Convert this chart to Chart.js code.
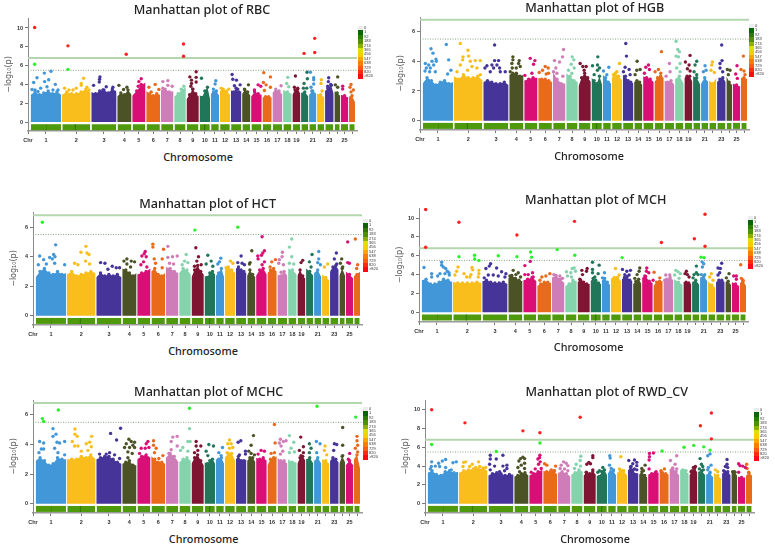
<!DOCTYPE html>
<html>
<head>
<meta charset="utf-8">
<script src="https://cdn.jsdelivr.net/npm/chart.js@4"></script>
<style>
  html, body { margin: 0; background: #fff; }
  #page { position: relative; width: 775px; height: 545px; overflow: hidden; }
  canvas { position: absolute; }
  .label { position: absolute; transform: translate(-50%, -50%); white-space: nowrap; color: #222; font-family: "Noto Sans", sans-serif; font-weight: 500; }
  .title { font-size: 12.6px; }
  .xname { font-size: 10.8px; }
  .scale { position: absolute; font-family: "Liberation Sans", sans-serif; font-size: 4px; color: #333; }
  .scale div { height: 4.4px; line-height: 4.4px; }
  .scale i { display: inline-block; width: 5px; height: 4.4px; vertical-align: top; margin-right: 1px; }
</style>
</head>
<body>
<div id="page"></div>
<script>
const chrSizes = [92, 86, 76, 43, 40, 42, 38, 35, 37, 32, 25, 31, 32, 25, 32, 28, 30, 26, 24, 22, 22, 22, 26, 17, 23, 18];
const chrColors = ["#4197D8", "#F9BE1B", "#463499", "#4A5226", "#D90F76", "#E96A1B", "#CE7DB8", "#84D3AC", "#7E1633", "#1F7659"];
const chrLabels = ["1", "2", "3", "4", "5", "6", "7", "8", "9", "10", "11", "12", "13", "14", "15", "16", "17", "18", "19", "", "21", "", "23", "", "25", ""];
const scaleLabels = ["0", "1", "92", "183", "274", "365", "456", "547", "638", "729", "820", ">820"];
const scaleColors = ["#ECECEC", "#0A6408", "#2C7C03", "#4F9006", "#8DB004", "#DDE000", "#F5D000", "#F9A400", "#F97D05", "#FB5A10", "#FD2A10", "#FF0A14"];
const stripBands = [[46, 48], [132, 136], [520, 525], [300, 302]];
const genomeLine = 6.8;
const suggestiveLine = 5.5;

const rbcSkyline = [[2.9,3.2,2.9,3.1,3.3,3.0,3.2,2.9],[2.9,3.2,3.0,3.0,3.2,3.5,3.1],[3.2,3.0,3.3,3.4,3.1,3.5,3.1],[2.7,3.1,2.9,3.4,2.9],[2.8,3.3,3.9,4.2],[3.3,3.0,2.8,3.0,2.9],[3.4,3.5,3.2,3.3],[2.7,3.0,3.4,3.7],[2.4,2.9,3.5,3.0,2.7],[2.9,2.6,3.3,3.7,2.4],[3.0,3.2,3.3,2.8],[3.3,3.5,3.3,2.9],[3.4,3.2,3.6,3.2,3.3],[3.0,3.4,3.2,2.8],[2.7,3.2,3.0,2.9],[2.6,2.7,2.7,2.6],[3.1,3.5,3.3,2.9],[3.4,3.2,3.0],[2.9,3.4,3.5,3.0],[3.1,3.2,2.7],[2.9,3.3,3.0],[3.0,2.9,2.6],[3.3,3.6,4.0,3.0],[3.3,3.1,2.8],[2.9,2.8,2.6],[2.7,2.8,2.1]];
const rbcPeaks = [[12,10.05],[12,6.15],[112,8.1],[112,5.6],[287,7.2],[459,8.3],[459,7.0],[821,7.3],[853,8.9],[853,7.4],
[61,5.4],[41,5.2],[19,4.7],[9,4.2],[54,4.5],[42,4.3],[49,3.75],[74,4.0],[4,3.45],[13,3.4],[30,3.6],[22,3.25],[67,3.4],[82,3.4],
[159,4.65],[152,4.1],[152,3.9],[137,3.6],[127,3.4],[102,3.6],[115,3.4],[169,3.7],[175,3.4],
[208,4.8],[207,4.55],[206,4.25],[189,3.9],[227,3.75],[247,3.7],[252,3.2],[217,3.4],
[265,3.9],[289,3.7],[279,3.45],[332,4.6],[325,4.3],[332,4.0],[323,3.8],
[374,4.0],[355,3.7],[385,3.45],[362,3.2],[397,4.3],[412,4.4],[425,3.8],[412,3.9],[397,3.6],[460,3.8],[452,3.5],
[497,5.35],[478,4.8],[497,4.75],[483,4.45],[497,4.25],[483,4.1],[481,3.8],[487,3.5],[513,4.65],
[556,4.4],[554,4.05],[549,3.5],[572,3.6],[595,3.5],[605,5.05],[607,4.55],[618,4.45],[629,3.95],[612,3.85],[622,3.5],
[654,3.95],[642,3.5],[683,3.95],[691,3.8],[672,3.4],[700,5.25],[720,4.8],[699,4.2],[707,3.95],[720,3.7],[702,3.35],
[752,3.85],[772,4.75],[769,4.1],[775,3.75],[795,4.9],[792,3.7],[802,3.6],[830,5.3],[831,4.6],[821,4.1],[819,3.6],[829,3.6],
[840,5.3],[850,4.7],[850,4.5],[850,4.05],[842,3.7],[844,3.3],[873,4.5],[872,4.1],[875,3.3],
[895,4.7],[894,4.3],[903,3.9],[892,3.8],[922,4.8],[915,3.95],[922,3.7],[937,3.8],[937,3.5],[962,4.0],[959,3.7],[969,3.4],[962,3.2]];

const hgbSkyline = [[2.5,2.9,2.7,2.4,2.6,2.7,2.5,2.6],[3.0,2.8,3.1,2.9,2.9,3.0,2.7],[2.6,2.7,2.6,2.5,2.5,2.6,2.4],[3.1,3.2,3.2,3.0,3.1],[2.7,2.8,2.9,2.9],[2.9,2.8,2.8,2.7,2.6],[3.3,2.8,2.5,2.5],[3.2,3.0,2.7,2.6],[2.3,2.9,3.2,2.9,2.6],[2.9,2.7,2.5,3.0,2.4],[3.1,2.9,2.6,2.5],[2.9,3.2,3.0,2.7],[3.1,3.0,2.7,2.6,2.5],[2.6,2.7,2.6,2.4],[3.0,2.9,2.8,2.6],[2.6,2.9,3.0,2.9],[2.7,2.6,2.7,2.4],[2.8,3.0,2.5],[2.9,3.0,3.0,2.6],[3.0,2.9,2.4],[2.5,2.9,2.6],[2.7,2.5,2.9],[2.6,2.8,2.9,2.6],[3.0,2.6,2.4],[2.5,2.4,2.3],[2.9,2.9,2.8]];
const hgbPeaks = [[71,5.13],[25,4.85],[31,4.55],[78,4.1],[40,4.15],[28,4.0],[41,4.0],[8,3.85],[18,3.75],[33,3.75],[11,3.55],[23,3.55],[7,3.35],[21,3.3],[38,3.3],[85,3.4],[75,3.15],
[113,5.2],[136,4.75],[121,4.3],[138,4.35],[113,3.75],[120,4.1],[158,4.05],[173,4.05],[143,4.0],[148,3.65],[163,3.55],[135,3.4],[173,3.1],[103,3.3],
[216,5.1],[216,4.05],[228,4.05],[208,3.75],[223,3.75],[193,3.7],[187,3.55],[213,3.55],[231,3.55],[248,3.3],[203,3.3],[233,3.3],
[271,4.3],[271,4.1],[290,4.05],[288,3.85],[268,3.85],[281,3.55],[269,3.55],[293,3.65],[263,3.3],[323,4.2],[337,4.05],[333,3.8],[307,3.05],[328,3.2],
[368,3.65],[377,3.55],[360,3.4],[350,3.25],[378,3.2],[371,3.15],[423,4.8],[420,4.3],[396,4.05],[411,3.95],[400,3.55],[393,3.3],[421,3.0],[403,3.2],
[449,4.3],[454,4.1],[446,3.8],[455,3.55],[438,3.4],[448,3.2],[473,3.85],[481,3.65],[491,3.65],[485,3.4],[526,4.3],[510,3.7],[525,3.75],[531,3.55],[525,3.4],[515,3.1],
[559,3.6],[543,3.35],[553,3.1],[591,3.85],[583,3.3],[573,3.1],[610,5.2],[612,4.35],[608,3.6],[620,3.45],[603,3.3],[623,3.1],[644,4.0],[653,3.45],[643,3.4],[638,3.1],
[678,3.75],[670,3.6],[681,3.45],[666,3.2],[717,4.65],[708,3.45],[698,3.3],[715,3.2],[741,3.85],[743,3.3],[731,3.0],[761,5.35],[766,4.8],[771,4.65],[761,4.35],[768,4.3],[773,3.85],[763,3.55],[773,3.3],
[803,4.4],[789,3.95],[800,3.75],[795,3.5],[803,3.35],[823,4.0],[818,3.75],[815,3.3],[823,3.1],[848,3.7],[851,3.4],[843,3.3],[870,3.95],[868,3.75],[866,3.4],[876,3.25],
[898,5.1],[899,4.05],[893,3.85],[893,3.55],[901,3.3],[915,3.45],[923,3.4],[918,3.1],[944,3.7],[940,3.15],[945,2.85],[963,4.35],[956,3.45],[965,3.35],[968,3.1]];

const hctSkyline = [[2.6,3.0,3.2,2.9,2.8,3.0,2.8,2.9],[2.8,3.0,2.7,2.8,2.9,3.0,2.9],[2.6,2.9,2.7,2.8,2.7,2.8,2.6],[3.2,3.1,2.9,2.7,2.9],[2.8,2.9,3.0,3.2],[3.0,3.2,2.8,2.7,2.9],[3.3,3.2,3.0,2.9],[2.9,3.2,3.1,2.8],[2.6,3.1,3.4,3.0,2.8],[2.7,2.6,2.9,3.0,2.8],[2.7,2.9,3.2,2.6],[3.1,3.3,3.1,2.9],[3.2,3.3,3.1,3.0,2.9],[2.7,3.1,2.8,2.6],[2.7,3.1,3.2,2.8],[2.9,3.1,3.2,3.0],[2.8,2.7,3.0,2.7],[3.2,3.1,2.8],[2.7,3.1,2.7,2.5],[3.2,3.0,2.7],[2.9,3.1,2.6],[2.8,2.6,2.4],[3.0,3.3,3.4,3.1],[2.7,3.2,2.7],[3.0,2.8,2.5],[2.7,2.8,3.0]];
const hctPeaks = [[20,6.33],[478,5.8],[607,6.0],[60,4.8],[12,4.05],[42,3.95],[54,4.15],[58,4.0],[24,3.8],[50,3.85],[32,3.5],[87,3.45],[8,3.45],[57,3.55],
[151,4.7],[136,4.3],[154,4.25],[160,4.15],[150,3.7],[162,3.5],[117,3.55],[127,3.45],[195,3.6],[208,3.55],[230,3.35],[242,3.25],[252,3.25],[217,3.15],
[274,3.85],[265,3.7],[287,3.7],[297,3.65],[274,3.5],[285,3.3],[329,4.35],[326,4.2],[319,4.05],[332,4.0],[324,3.65],[316,3.45],[334,3.3],
[352,4.85],[352,4.65],[384,4.5],[380,3.85],[356,3.85],[360,3.55],[380,3.25],[397,4.7],[397,3.95],[411,4.0],[425,4.05],[402,3.55],[414,3.5],[452,4.15],[447,3.7],[457,3.6],[440,3.45],
[481,4.6],[489,4.0],[484,3.7],[497,3.45],[477,3.35],[517,4.1],[527,3.7],[512,3.5],[532,3.35],[556,3.9],[552,3.65],[547,3.5],[585,3.7],[572,3.25],[592,3.55],
[617,4.05],[607,3.6],[620,3.55],[627,3.45],[649,4.4],[644,3.6],[642,3.5],[687,4.4],[682,4.25],[678,4.1],[667,4.05],[668,3.85],[680,5.35],[687,3.65],[680,3.45],
[720,3.8],[709,3.65],[704,3.3],[741,4.3],[740,4.0],[732,3.8],[744,3.45],[730,3.55],[737,2.95],[769,5.2],[762,4.65],[769,4.0],[762,3.55],[775,3.5],[802,3.75],[797,3.6],
[830,4.15],[822,3.65],[827,3.3],[850,4.35],[850,3.85],[847,3.6],[855,3.45],[877,3.5],[867,3.3],[903,4.25],[897,3.85],[904,3.5],[919,3.85],[915,3.55],[922,3.3],
[937,5.0],[937,3.6],[942,3.55],[960,5.2],[967,3.45],[964,3.2]];

const mchSkyline = [[3.4,3.5,3.0,3.0,3.2,3.5,3.4,3.2],[3.2,3.1,3.1,3.1,3.1,3.2,3.1],[3.3,3.4,3.2,3.1,3.1,3.2,3.0],[3.6,3.9,3.6,3.4,3.3],[3.4,3.5,3.7,3.3],[2.8,3.0,3.2,3.2,3.1],[3.7,3.9,3.5,3.1],[2.8,3.0,3.4,3.3],[3.2,3.4,3.2,3.0,3.0],[3.3,3.6,3.4,3.1,3.0],[3.4,3.6,3.2,2.9],[3.6,3.7,3.7,3.3],[3.5,3.7,3.8,3.4,3.3],[3.0,3.3,3.5,3.0],[3.7,3.8,3.3,3.1],[2.8,3.2,3.3,3.3],[3.3,3.5,3.7,3.4],[3.5,3.2,2.9],[3.2,3.2,3.1,3.0],[3.2,3.4,2.9],[3.7,3.8,3.3],[3.3,2.9,2.6],[3.2,3.4,3.4,3.2],[3.2,3.3,2.9],[3.2,3.0,2.8],[3.1,3.4,2.8]];
const mchPeaks = [[12,10.9],[12,6.9],[112,9.55],[112,5.9],[286,8.2],[286,5.9],[159,6.05],[159,5.65],[172,5.5],[230,6.0],[327,6.4],[330,5.85],[326,5.4],[310,4.95],[407,6.65],[459,9.65],[460,6.05],[602,5.8],[720,7.4],[819,7.8],[851,10.4],[851,7.0],[839,5.85],[848,5.8],[842,5.35],[847,5.15],[958,5.05],
[7,4.75],[60,5.3],[60,5.0],[65,4.8],[72,4.65],[77,4.35],[82,4.2],[30,4.1],[48,3.85],[30,3.75],[55,4.1],[70,4.1],[83,3.95],
[109,4.8],[105,4.35],[100,3.95],[127,4.1],[151,4.75],[153,4.5],[148,4.0],[172,4.45],[172,4.1],[145,3.75],[170,3.75],[135,3.75],
[207,5.15],[203,4.9],[193,4.65],[225,4.7],[240,4.3],[253,4.1],[215,3.95],[200,3.95],[230,3.85],[250,3.75],[188,3.65],
[275,4.45],[290,4.2],[283,4.0],[265,3.85],[297,3.75],[333,4.2],[320,4.0],[310,4.0],[335,3.75],[385,4.1],[373,3.85],[361,3.75],[355,3.4],[397,4.0],[415,3.85],[423,3.6],
[458,4.7],[452,4.65],[435,4.3],[448,4.2],[438,3.85],[450,3.75],[462,4.35],[497,4.65],[481,4.45],[495,4.35],[483,4.0],[475,3.5],[513,5.3],[533,5.0],[513,4.55],[513,4.2],[530,4.1],[520,3.75],
[549,4.2],[543,3.65],[582,4.65],[593,3.95],[585,3.65],[603,4.55],[616,4.35],[627,4.45],[610,4.0],[623,3.95],[655,4.7],[653,4.35],[647,4.0],[640,3.6],[676,4.7],[675,4.35],[682,4.2],[670,3.85],
[698,4.25],[715,3.65],[695,3.4],[733,3.95],[745,3.95],[730,3.4],[763,4.45],[770,4.3],[777,4.1],[760,3.95],[773,3.6],[795,4.35],[791,4.1],[798,4.0],[803,3.75],
[825,4.9],[825,4.2],[818,4.0],[830,4.0],[815,3.65],[843,4.8],[850,4.0],[840,4.0],[870,4.1],[865,3.75],[875,3.4],[901,5.2],[890,4.7],[897,4.65],[895,4.2],[890,3.95],
[923,4.1],[915,3.65],[945,3.85],[937,3.85],[945,3.5],[960,3.6],[965,3.3]];

const mchcSkyline = [[2.9,3.1,2.9,2.6,2.7,3.1,3.0,3.0],[3.0,3.0,3.0,3.2,3.1,3.3,3.0],[3.0,3.1,3.2,3.2,3.0,2.8,2.7],[2.7,2.8,2.9,2.6,2.6],[3.0,3.2,3.3,3.1],[3.2,3.0,2.8,2.8,2.7],[3.1,3.4,3.2,2.8],[2.8,3.0,3.1,2.9],[2.7,3.1,3.3,2.9,2.6],[2.8,2.7,2.9,3.0,2.7],[3.0,3.0,3.1,2.7],[3.1,3.4,3.4,2.9],[3.0,3.2,2.9,2.9,3.0],[2.9,3.1,3.1,2.8],[3.1,3.0,3.1,2.9],[2.6,3.0,3.1,3.2],[3.1,2.9,2.9,2.7],[3.0,2.8,2.8],[2.7,3.1,3.2,2.9],[3.0,3.1,2.7],[2.9,3.1,2.7],[3.0,2.9,2.7],[2.9,3.1,3.0,2.8],[2.7,3.2,2.8],[2.6,2.9,2.6],[3.0,3.3,2.4]];
const mchcPeaks = [[20,5.75],[24,5.55],[68,6.33],[462,6.45],[845,6.58],[961,5.85],[52,5.07],[52,4.55],[61,4.7],[12,4.2],[24,4.1],[64,4.15],[72,4.1],[87,4.2],[10,3.45],[17,3.7],[24,3.7],[57,3.75],[67,3.45],[87,3.3],
[118,5.05],[118,4.7],[125,4.55],[110,4.2],[168,4.55],[152,4.05],[162,4.15],[127,3.9],[117,3.9],[137,3.55],[157,3.6],[167,3.85],[225,4.75],[243,4.3],[255,5.1],[222,3.45],[212,3.35],[192,3.35],[237,3.3],[252,3.05],
[280,4.35],[287,4.2],[297,4.15],[292,3.95],[272,4.05],[267,3.8],[282,3.8],[297,3.8],[277,3.5],[290,3.4],[277,3.1],[337,4.2],[332,4.05],[317,3.75],[329,3.75],[340,3.8],[312,3.4],
[354,4.25],[354,3.95],[362,3.75],[357,3.45],[382,3.25],[370,3.05],[412,4.5],[425,4.55],[407,4.2],[425,3.9],[407,3.65],[400,3.4],[462,5.07],[457,4.2],[464,4.2],[442,3.8],[435,3.6],[457,3.55],
[482,4.2],[482,3.9],[496,3.9],[487,3.6],[477,3.45],[520,4.0],[534,3.9],[512,3.55],[517,3.25],[561,3.8],[550,3.45],[557,3.25],[582,4.3],[577,4.05],[587,4.05],[592,3.8],[582,3.75],[575,3.45],
[616,4.25],[608,4.15],[630,3.55],[612,3.3],[630,3.35],[654,4.6],[647,3.95],[640,3.55],[647,3.4],[657,3.3],[677,3.6],[687,3.55],[668,3.35],[717,5.35],[719,4.1],[707,3.4],[717,3.45],
[735,4.35],[744,4.2],[732,4.1],[737,3.9],[742,3.55],[735,3.35],[762,4.6],[752,4.25],[775,4.15],[767,3.75],[762,3.45],[777,3.5],[796,4.5],[804,3.85],[792,3.6],[804,3.45],[797,3.25],
[822,4.05],[827,3.75],[822,3.45],[843,4.2],[854,4.05],[844,3.45],[869,3.9],[867,3.6],[874,3.3],[897,4.05],[904,4.0],[895,3.6],[922,5.15],[922,3.95],[922,3.25],[943,3.4],[939,3.0],[965,4.55],[965,4.25],[960,3.75],[967,3.95],[967,3.5]];

const rwdSkyline = [[3.3,3.5,3.1,3.0,3.4,3.5,3.3,3.4],[3.3,3.5,3.6,3.7,3.7,3.8,3.5],[3.0,3.2,3.3,3.2,3.0,3.1,3.1],[2.9,3.0,3.2,3.3,3.0],[3.0,3.2,3.4,3.6],[3.5,3.4,3.4,3.5,3.1],[3.3,3.4,3.2,2.9],[3.1,3.3,3.6,3.4],[3.0,3.3,3.2,3.4,3.1],[3.0,2.9,3.4,3.6,3.0],[3.3,3.4,3.5,3.0],[3.2,3.6,3.5,3.0],[3.5,3.9,3.6,3.1,3.3],[3.1,3.4,3.0,2.8],[3.1,3.2,3.3,3.3],[3.6,3.3,3.2,3.1],[3.7,3.8,3.4,3.0],[3.6,3.5,3.2],[3.0,3.5,3.8,3.3],[3.4,3.5,3.0],[3.1,3.2,2.8],[3.3,3.0,2.6],[3.2,3.4,3.4,3.0],[3.3,3.4,3.0],[2.9,2.8,2.8],[3.0,3.2,3.0]];
const rwdPeaks = [[12,10.0],[12,6.3],[112,8.6],[286,7.75],[337,7.55],[337,6.45],[458,9.2],[206,5.55],[704,5.6],[770,6.0],[799,6.2],[819,8.3],[829,6.05],[848,5.7],[852,9.65],[852,6.9],
[818,4.8],[848,5.3],[841,5.1],[666,5.35],[678,5.4],[666,5.0],[665,4.65],[665,3.7],[748,5.1],[729,4.6],[743,4.2],
[12,4.45],[54,4.7],[76,4.35],[86,4.45],[44,4.55],[33,4.3],[11,3.95],[23,4.0],[36,3.95],[54,3.85],[71,3.6],[8,3.7],[108,4.4],[114,4.45],[106,3.95],[126,3.95],[134,4.2],[153,4.45],[156,3.95],[144,3.85],[174,3.85],
[188,5.15],[188,4.75],[226,5.15],[206,4.75],[186,4.2],[201,4.0],[238,4.1],[226,4.0],[238,3.75],[188,3.6],[216,3.4],[231,3.5],[286,4.95],[279,4.8],[291,4.8],[274,4.55],[291,4.3],[281,4.1],[271,3.85],[291,3.75],[276,3.4],
[337,5.15],[336,4.9],[331,4.75],[338,4.45],[333,4.2],[341,3.75],[323,3.7],[311,3.35],[351,4.25],[358,4.1],[384,4.0],[371,3.6],[381,3.5],[408,4.45],[416,4.3],[401,4.1],[421,4.05],[398,3.75],[411,3.7],[421,3.5],
[460,5.05],[458,4.6],[446,4.2],[459,4.0],[441,3.75],[496,5.1],[496,4.9],[484,4.4],[478,4.2],[489,4.25],[496,3.6],[476,3.35],[526,3.85],[516,3.5],[511,3.35],[526,3.4],
[547,5.1],[548,4.85],[546,4.1],[551,3.75],[558,3.6],[580,5.0],[576,3.7],[586,3.5],[604,4.6],[621,4.65],[628,4.4],[616,4.25],[628,4.05],[611,3.95],[621,3.7],[628,3.6],[653,4.1],[643,3.75],[648,3.5],
[686,3.4],[711,3.7],[701,3.5],[736,3.75],[748,3.7],[766,3.6],[776,3.5],[798,3.85],[804,3.95],[791,3.4],[822,4.2],[826,3.95],[816,3.7],[828,3.6],[851,4.1],[843,3.85],[848,3.35],[841,3.6],
[864,3.6],[871,3.4],[899,4.7],[899,4.2],[894,3.95],[901,3.85],[889,3.5],[916,3.4],[923,3.35],[934,4.25],[938,4.05],[946,4.0],[934,3.35],[958,4.2],[959,3.75],[954,3.85],[964,3.35]];

const panels = [
  { title: "Manhattan plot of RBC", skyline: rbcSkyline, peaks: rbcPeaks, yTicks: [0,2,4,6,8,10], massLeft: 31, zeroY: 122, unitPx: 9.4, topY: 18, bottomY: 131, titleAt: [202, 9], nameAt: [198, 156], scaleAt: [358, 26] },
  { title: "Manhattan plot of HGB", skyline: hgbSkyline, peaks: hgbPeaks, yTicks: [0,2,4,6], massLeft: 422.3, zeroY: 120.7, unitPx: 14.8, topY: 17.3, bottomY: 130, titleAt: [594.7, 7], nameAt: [589, 154.7], scaleAt: [749, 24] },
  { title: "Manhattan plot of HCT", skyline: hctSkyline, peaks: hctPeaks, yTicks: [0,2,4,6], massLeft: 36, zeroY: 316, unitPx: 14.8, topY: 212, bottomY: 325.3, titleAt: [207.7, 203], nameAt: [203, 350], scaleAt: [363, 219] },
  { title: "Manhattan plot of MCH", skyline: mchSkyline, peaks: mchPeaks, yTicks: [0,2,4,6,8,10], massLeft: 421.7, zeroY: 312, unitPx: 9.4, topY: 208, bottomY: 321.7, titleAt: [595.7, 199], nameAt: [588.7, 346], scaleAt: [748, 216] },
  { title: "Manhattan plot of MCHC", skyline: mchcSkyline, peaks: mchcPeaks, yTicks: [0,2,4,6], massLeft: 36, zeroY: 503.7, unitPx: 14.8, topY: 400, bottomY: 513, titleAt: [208.7, 390.7], nameAt: [203.7, 537.7], scaleAt: [363, 407] },
  { title: "Manhattan plot of RWD_CV", skyline: rwdSkyline, peaks: rwdPeaks, yTicks: [0,2,4,6,8,10], massLeft: 428, zeroY: 503.7, unitPx: 9.4, topY: 400, bottomY: 513, titleAt: [606.7, 390.7], nameAt: [595, 537.7], scaleAt: [754, 408] }
];

const page = document.getElementById("page");
const xStart = -8;
const xEnd = 980;
const unitsPerPx = 3;

// chromosome start positions along the shared x axis, with a small gap between them
const chrStarts = [];
let cursor = 0;
for (let i = 0; i < chrSizes.length; i++) {
  chrStarts.push(cursor);
  cursor += chrSizes[i] + 2;
}

function chrIndexAt(x) {
  for (let i = chrSizes.length - 1; i >= 0; i--) {
    if (x >= chrStarts[i]) {
      return i;
    }
  }
  return 0;
}

function chrColor(i) {
  return chrColors[i % chrColors.length];
}

function peakColor(point) {
  if (point[1] >= genomeLine) {
    return "#FF2020";
  }
  if (point[1] >= suggestiveLine) {
    return "#2CF02C";
  }
  return chrColor(chrIndexAt(point[0]));
}

function addLabel(text, at, cls) {
  const el = document.createElement("div");
  el.className = "label " + cls;
  el.textContent = text;
  el.style.left = at[0] + "px";
  el.style.top = at[1] + "px";
  page.appendChild(el);
}

function addScale(at) {
  const box = document.createElement("div");
  box.className = "scale";
  box.style.left = at[0] + "px";
  box.style.top = at[1] + "px";
  scaleLabels.forEach((label, i) => {
    const row = document.createElement("div");
    const swatch = document.createElement("i");
    swatch.style.background = scaleColors[i];
    row.appendChild(swatch);
    row.appendChild(document.createTextNode(label));
    box.appendChild(row);
  });
  page.appendChild(box);
}

function buildDatasets(panel, stripTop, stripBottom) {
  const datasets = [];

  panel.skyline.forEach((levels, i) => {
    const step = chrSizes[i] / (levels.length - 1);
    const last = levels.length - 1;
    datasets.push({
      type: "line",
      data: levels.map((y, k) => ({ x: chrStarts[i] + k * step, y: y })),
      borderWidth: 0,
      pointRadius: levels.map((y, k) => (k === 0 || k === last ? 0 : 1.7)),
      pointBorderWidth: 0,
      pointBackgroundColor: chrColor(i),
      backgroundColor: chrColor(i),
      fill: { value: 0 },
      order: 5
    });
    datasets.push({
      type: "line",
      data: [{ x: chrStarts[i] + 1, y: stripTop }, { x: chrStarts[i] + chrSizes[i] - 1, y: stripTop }],
      borderWidth: 0,
      pointRadius: 0,
      backgroundColor: "#4E9A0C",
      fill: { value: stripBottom },
      order: 4
    });
  });

  stripBands.forEach((band) => {
    datasets.push({
      type: "line",
      data: [{ x: band[0], y: stripTop }, { x: band[1], y: stripTop }],
      borderWidth: 0,
      pointRadius: 0,
      backgroundColor: "#2E7A06",
      fill: { value: stripBottom },
      order: 3
    });
  });

  datasets.push({
    type: "line",
    data: [{ x: xStart, y: genomeLine }, { x: xEnd, y: genomeLine }],
    borderColor: "#B4D6AE",
    borderWidth: 2,
    pointRadius: 0,
    order: 2
  });
  datasets.push({
    type: "line",
    data: [{ x: xStart, y: suggestiveLine }, { x: xEnd, y: suggestiveLine }],
    borderColor: "#84A880",
    borderWidth: 1,
    borderDash: [1, 1.5],
    pointRadius: 0,
    order: 2
  });

  datasets.push({
    type: "scatter",
    data: panel.peaks.map((p) => ({ x: p[0], y: p[1] })),
    backgroundColor: panel.peaks.map(peakColor),
    borderWidth: 0,
    pointRadius: 1.7,
    order: 1
  });

  return datasets;
}

panels.forEach((panel) => {
  const axisWidth = 24;
  const axisHeight = 15;
  const plotWidth = (xEnd - xStart) / unitsPerPx;
  const plotHeight = panel.bottomY - panel.topY;
  const yMax = (panel.zeroY - panel.topY) / panel.unitPx;
  const yMin = (panel.zeroY - panel.bottomY) / panel.unitPx;
  const chartLeft = panel.massLeft - 2.67;

  const canvas = document.createElement("canvas");
  canvas.width = Math.round(axisWidth + plotWidth + 2);
  canvas.height = Math.round(plotHeight + axisHeight + 2);
  canvas.style.left = (chartLeft - axisWidth) + "px";
  canvas.style.top = (panel.topY - 2) + "px";
  page.appendChild(canvas);

  addLabel(panel.title, panel.titleAt, "title");
  addLabel("Chromosome", panel.nameAt, "xname");
  addScale(panel.scaleAt);

  new Chart(canvas, {
    type: "scatter",
    data: { datasets: buildDatasets(panel, -2.2 / panel.unitPx, -8.2 / panel.unitPx) },
    options: {
      responsive: false,
      animation: false,
      devicePixelRatio: 1,
      layout: { autoPadding: false, padding: { top: 2, right: 2, bottom: 0, left: 0 } },
      plugins: { legend: { display: false }, tooltip: { enabled: false } },
      scales: {
        x: {
          type: "linear",
          min: xStart,
          max: xEnd,
          border: { color: "#9A9A9A", width: 1.5 },
          grid: { drawOnChartArea: false, color: "#777", tickLength: 3 },
          afterBuildTicks(scale) {
            scale.ticks = [{ value: xStart }].concat(chrSizes.map((size, i) => ({ value: chrStarts[i] + size / 2 })));
          },
          afterTickToLabelConversion(scale) {
            scale.ticks.forEach((tick, i) => {
              tick.label = i === 0 ? "Chr" : chrLabels[i - 1];
            });
          },
          afterFit(scale) {
            scale.height = axisHeight;
            scale.paddingLeft = 0;
            scale.paddingRight = 0;
          },
          ticks: {
            autoSkip: false,
            maxRotation: 0,
            padding: 3,
            color: "#333",
            font: { family: "Liberation Sans", size: 5.5, weight: "bold" }
          }
        },
        y: {
          type: "linear",
          min: yMin,
          max: yMax,
          border: { color: "#8A8A8A", width: 1 },
          grid: { drawOnChartArea: false, color: "#777", tickLength: 3 },
          title: {
            display: true,
            text: "\u2212log\u2081\u2080(p)",
            color: "#555",
            padding: 0,
            font: { family: "DejaVu Sans", size: 8 }
          },
          afterBuildTicks(scale) {
            scale.ticks = panel.yTicks.map((v) => ({ value: v }));
          },
          afterFit(scale) {
            scale.width = axisWidth;
            scale.paddingTop = 0;
            scale.paddingBottom = 0;
          },
          ticks: {
            padding: 2,
            color: "#333",
            font: { family: "Liberation Sans", size: 5.5, weight: "bold" }
          }
        }
      }
    }
  });
});
</script>
</body>
</html>
